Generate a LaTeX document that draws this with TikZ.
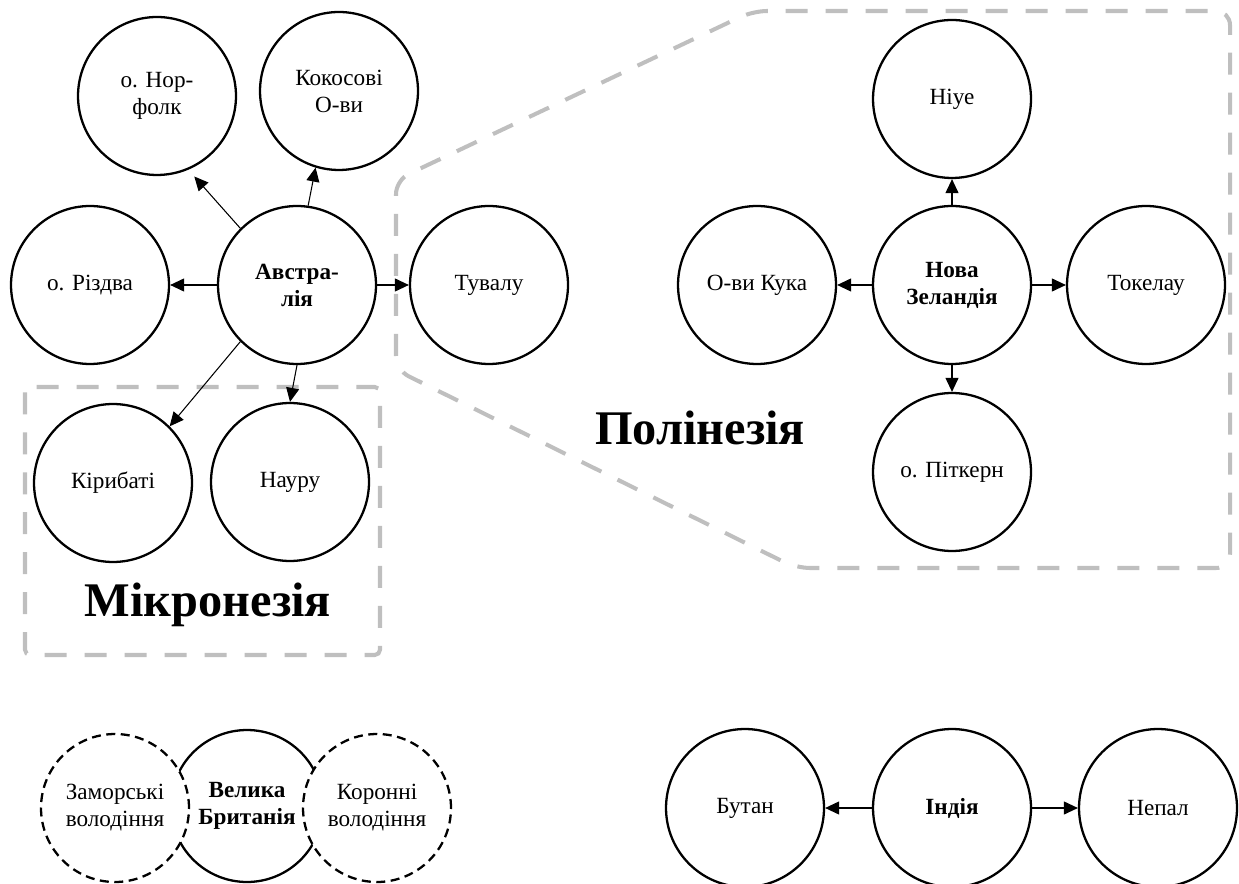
\documentclass[tikz,border=0pt]{standalone}
\usepackage{fontspec}
\setmainfont{Liberation Serif}
\usetikzlibrary{arrows.meta}

\begin{document}
\begin{tikzpicture}[
    x=0.02cm, y=-0.02cm,
    font=\fontsize{13.2}{15.4}\selectfont,
    >={Triangle[length=0.28cm, width=0.26cm]},
    line width=0.6pt,
    isle/.style={circle, draw=black, line width=1.3pt, fill=white, minimum size=3.16cm, inner sep=0pt, align=center},
    mainisle/.style={isle, font=\fontsize{13.2}{15.4}\selectfont\bfseries},
    dashisle/.style={isle, dash pattern=on 0.18cm off 0.11cm, minimum size=2.96cm},
    link/.style={->, line width=0.6pt},
    regionbox/.style={draw=black!25, line width=2.3pt, dash pattern=on 0.44cm off 0.36cm},
    regionlabel/.style={font=\fontsize{27.5}{30}\selectfont\bfseries, anchor=base}
]
\useasboundingbox (0,0) rectangle (1239,884);

\draw[regionbox, rounded corners=3pt] (25,387) rectangle (380,655);
\draw[regionbox, rounded corners=8pt] (396,370) -- (396,180) -- (753,11) -- (1230,11) -- (1230,568) -- (796,568) -- cycle;

\node[mainisle] (aus) at (297,285) {Австра-\\лія};
\node[isle] (norfolk) at (157,96) {о. Нор-\\фолк};
\node[isle] (cocos) at (339,91) {Кокосові\\О-ви};
\node[isle] (xmas) at (90,285) {о. Різдва};
\node[isle] (tuvalu) at (489,285) {Тувалу};
\node[isle] (kiribati) at (113,483) {Кірибаті};
\node[isle] (nauru) at (290,482) {Науру};
\node[regionlabel] (micro) at (208,616) {Мікронезія};

\draw[link] (aus.west) -- (xmas.east);
\draw[link] (aus.east) -- (tuvalu.west);
\draw[link, shorten >=0.18cm] (aus.135) -- (norfolk.-67);
\draw[link] (aus.82) -- (cocos.253);
\draw[link] (aus.225) -- (kiribati.45);
\draw[link] (aus.south) -- (nauru.north);

\node[mainisle] (nz) at (952,285) {Нова\\Зеландія};
\node[isle] (niue) at (952,99) {Ніуе};
\node[isle] (cook) at (757,285) {О-ви Кука};
\node[isle] (tokelau) at (1146,285) {Токелау};
\node[isle] (pitcairn) at (952,472) {о. Піткерн};
\node[regionlabel] (poly) at (700,444) {Полінезія};

\draw[link] (nz.north) -- (niue.south);
\draw[link] (nz.west) -- (cook.east);
\draw[link] (nz.east) -- (tokelau.west);
\draw[link] (nz.south) -- (pitcairn.north);

\node[mainisle, minimum size=3.04cm] (uk) at (247,806) {Велика\\Британія};
\node[dashisle] (overseas) at (115,808) {Заморські\\володіння};
\node[dashisle] (crown) at (377,808) {Коронні\\володіння};

\node[isle] (bhutan) at (745,808) {Бутан};
\node[mainisle] (india) at (952,808) {Індія};
\node[isle] (nepal) at (1158,808) {Непал};

\draw[link] (india.west) -- (bhutan.east);
\draw[link] (india.east) -- (nepal.west);
\end{tikzpicture}
\end{document}
